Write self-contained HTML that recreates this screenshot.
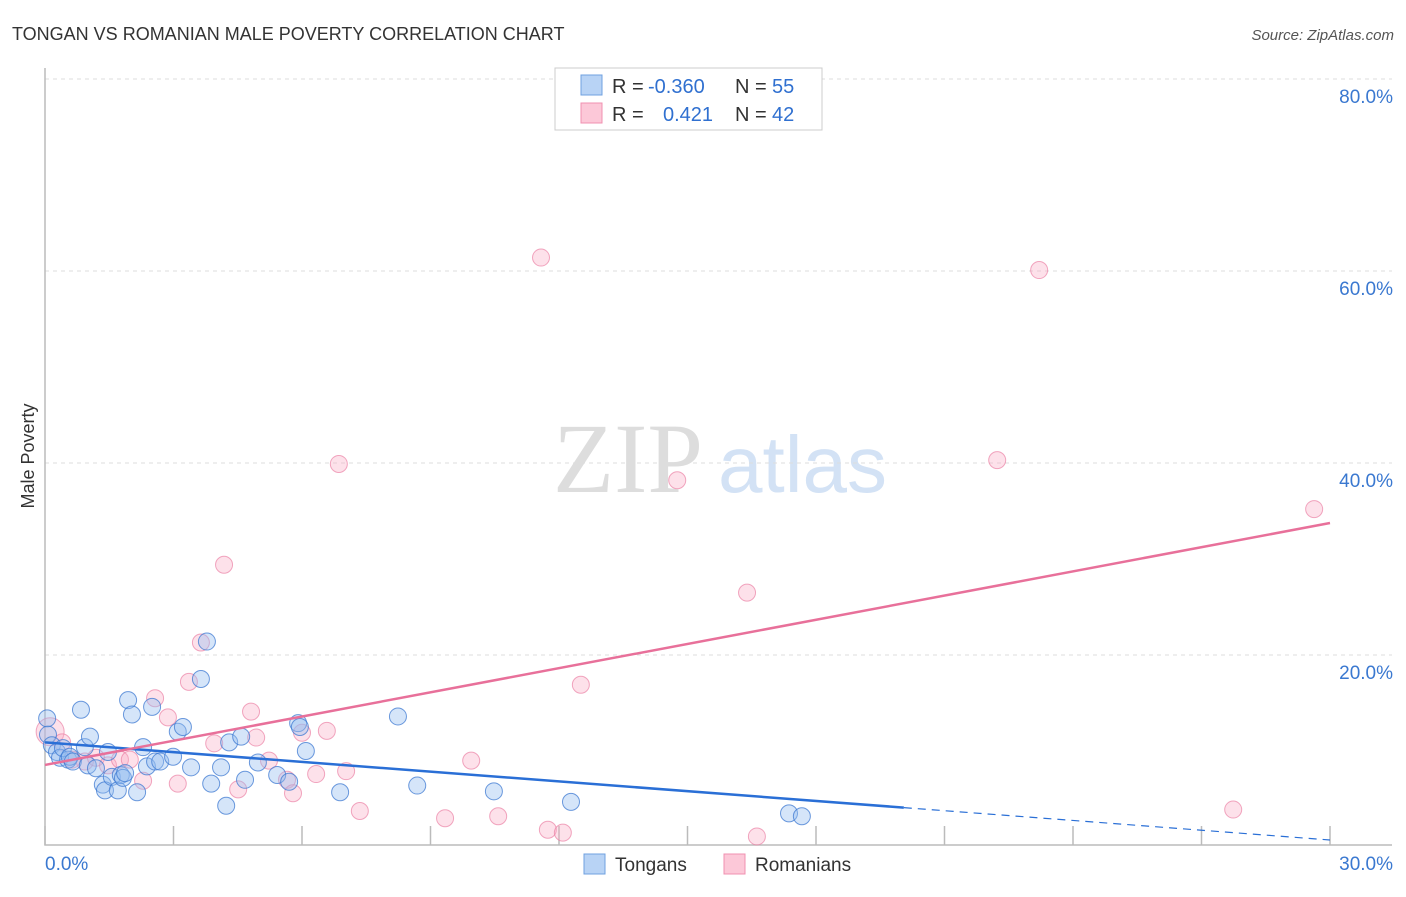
<!DOCTYPE html>
<html><head><meta charset="utf-8"><style>
body{margin:0;background:#fff;font-family:"Liberation Sans",sans-serif}
svg text{font-family:"Liberation Sans",sans-serif}
</style></head><body>
<svg width="1406" height="892">
<text x="12" y="40" font-size="18" fill="#333">TONGAN VS ROMANIAN MALE POVERTY CORRELATION CHART</text>
<text x="1394" y="40" font-size="15" fill="#555" font-style="italic" text-anchor="end">Source: ZipAtlas.com</text>
<g>
<text x="553" y="492" font-size="100" fill="#ddd" style="font-family:'Liberation Serif',serif">ZIP</text>
<text x="718" y="492" font-size="80" fill="#d3e2f5">atlas</text>
</g>
<g id="grid"></g>
<g id="axes"></g>
<g id="marks"></g>
<text x="34" y="456" font-size="18" fill="#333" text-anchor="middle" transform="rotate(-90 34 456)">Male Poverty</text>
<g>
<rect x="555" y="68" width="267" height="62" fill="#fff" stroke="#ccc"/>
<rect x="581" y="75" width="21" height="20" fill="#b8d3f5" stroke="#6fa0e0"/>
<rect x="581" y="103" width="21" height="20" fill="#fcc8d8" stroke="#f090b0"/>
<text x="612" y="93" font-size="20" fill="#333">R = </text><text x="648" y="93" font-size="20" fill="#3070d0">-0.360</text>
<text x="735" y="93" font-size="20" fill="#333">N = </text><text x="772" y="93" font-size="20" fill="#3070d0">55</text>
<text x="612" y="121" font-size="20" fill="#333">R = </text><text x="663" y="121" font-size="20" fill="#3070d0">0.421</text>
<text x="735" y="121" font-size="20" fill="#333">N = </text><text x="772" y="121" font-size="20" fill="#3070d0">42</text>
</g>
<g>
<rect x="584" y="854" width="21" height="20" fill="#b8d3f5" stroke="#6fa0e0"/>
<text x="615" y="871" font-size="19" fill="#333">Tongans</text>
<rect x="724" y="854" width="21" height="20" fill="#fcc8d8" stroke="#f090b0"/>
<text x="755" y="871" font-size="19" fill="#333">Romanians</text>
</g>
</svg>
<script>
const yTicks=[20,40,60,80];
const yTickLabels=["20.0%","40.0%","60.0%","80.0%"];
const xTicks=[0,3,6,9,12,15,18,21,24,27,30];
const tonganX=[0.05,0.07,0.16,0.28,0.35,0.42,0.54,0.58,0.65,0.84,0.93,1.0,1.05,1.19,1.35,1.4,1.47,1.56,1.7,1.77,1.82,1.87,1.94,2.03,2.15,2.29,2.38,2.5,2.57,2.69,2.99,3.1,3.22,3.41,3.64,3.78,3.88,4.11,4.23,4.3,4.58,4.67,4.97,5.42,5.7,5.91,5.95,6.09,6.89,8.24,8.69,10.48,12.28,17.37,17.67];
const tonganY=[13.4,11.7,10.6,9.9,9.3,10.3,9.1,9.4,8.9,14.3,10.4,8.5,11.5,8.2,6.5,5.9,9.9,7.3,5.9,7.5,7.2,7.7,15.3,13.8,5.7,10.4,8.4,14.6,8.9,8.9,9.4,12.0,12.5,8.3,17.5,21.4,6.6,8.3,4.3,10.9,11.5,7.0,8.8,7.5,6.8,12.9,12.5,10.0,5.7,13.6,6.4,5.8,4.7,3.5,3.2];
const romX=[0.12,0.4,0.63,0.93,1.19,1.47,1.75,1.98,2.29,2.57,2.87,3.1,3.36,3.64,3.95,4.18,4.51,4.81,4.93,5.23,5.65,5.79,6.0,6.33,6.58,7.03,7.35,6.86,9.34,9.95,10.58,11.58,11.74,12.09,12.51,14.76,16.39,16.62,22.23,23.21,27.74,29.63];
const romY=[12.0,10.9,9.1,8.9,9.3,8.5,9.1,9.1,6.9,15.5,13.5,6.6,17.2,21.3,10.8,29.4,6.0,14.1,11.4,9.0,7.0,5.6,11.9,7.6,12.1,7.9,3.75,39.9,3.0,9.0,3.2,61.4,1.8,1.5,16.9,38.2,26.5,1.1,40.3,60.1,3.9,35.2];
const tonganTrend=[10.9,0.73];
const tonganSolidEnd=20.05;
const romTrend=[8.55,33.75];
const NS="http://www.w3.org/2000/svg";
const X=v=>45+v*1285/30, Y=v=>847-v*9.6;
function mk(p,tag,a){const e=document.createElementNS(NS,tag);for(const k in a)e.setAttribute(k,a[k]);p.appendChild(e);return e;}
const grid=document.getElementById('grid'),axes=document.getElementById('axes'),marks=document.getElementById('marks');
yTicks.forEach((t,i)=>{
 const l=mk(grid,'line',{x1:45,x2:1392,y1:Y(t),y2:Y(t),stroke:'#ddd','stroke-dasharray':'4 4'});
 
 
 const tx=mk(grid,'text',{x:1393,y:Y(t)+24,'font-size':19,fill:'#3a78d0','text-anchor':'end'});
 tx.textContent=yTickLabels[i];
 
 
});
const ax=mk(axes,'path',{d:'M45 68V845H1392',fill:'none',stroke:'#bbb','stroke-width':1.5});


xTicks.forEach(t=>{
 const l=mk(axes,'line',{x1:X(t),x2:X(t),y1:826,y2:845,stroke:'#bbb','stroke-width':1.5});
 
 
});
const xl0=mk(axes,'text',{x:45,y:870,'font-size':19,fill:'#3a78d0'});xl0.textContent='0.0%';


const xl1=mk(axes,'text',{x:1393,y:870,'font-size':19,fill:'#3a78d0','text-anchor':'end'});xl1.textContent='30.0%';


romX.forEach((x,i)=>{
 const c=mk(marks,'circle',{cx:X(x),cy:Y(romY[i]),r:i==0?14:8.5,fill:'rgba(248,170,195,0.35)',stroke:'rgba(235,130,165,0.7)','stroke-width':1});
 
 
});
tonganX.forEach((x,i)=>{
 const c=mk(marks,'circle',{cx:X(x),cy:Y(tonganY[i]),r:8.5,fill:'rgba(150,190,240,0.4)',stroke:'rgba(60,120,210,0.75)','stroke-width':1});
 
 
});
const tv=x=>tonganTrend[0]+(tonganTrend[1]-tonganTrend[0])*x/30;
const l1=mk(marks,'line',{x1:X(0),y1:Y(tv(0)),x2:X(tonganSolidEnd),y2:Y(tv(tonganSolidEnd)),stroke:'#2a6fd6','stroke-width':2.5});


const l2=mk(marks,'line',{x1:X(tonganSolidEnd),y1:Y(tv(tonganSolidEnd)),x2:X(30),y2:Y(tv(30)),stroke:'#2a6fd6','stroke-width':1.2,'stroke-dasharray':'8 6'});


const l3=mk(marks,'line',{x1:X(0),y1:Y(romTrend[0]),x2:X(30),y2:Y(romTrend[1]),stroke:'#e8709a','stroke-width':2.5});


</script>
</body></html>
